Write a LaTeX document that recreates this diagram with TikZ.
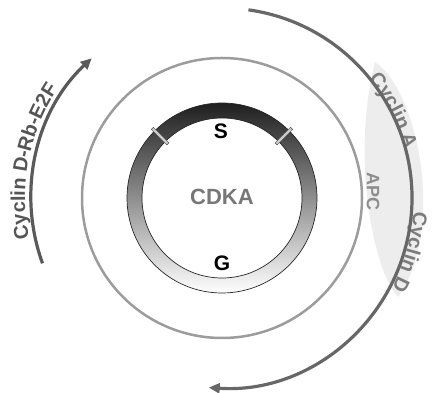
\documentclass[tikz,border=0pt]{standalone}
\usepackage{fontspec}
\setmainfont{Liberation Sans}
\usetikzlibrary{arrows.meta,calc}
\definecolor{arcdark}{HTML}{676767}
\definecolor{arcleft}{HTML}{5A5A5A}
\definecolor{midgray}{HTML}{9C9C9C}
\definecolor{lensgray}{HTML}{EDEDED}
\definecolor{txtleft}{HTML}{555555}
\definecolor{txtright}{HTML}{7C7C7C}
\definecolor{cdkatxt}{HTML}{777777}
\newcommand\arctxt{\fontsize{20}{20}\selectfont\bfseries}
% #1 radius, #2 middle angle, #3 colour, #4 total width, #5 list char/width
\newcommand\arcword[5]{%
  \pgfmathsetmacro\astart{#2+(#4/2)/#1*180/pi}%
  \gdef\arcpos{0}%
  \foreach \ch/\w in {#5} {%
    \pgfmathsetmacro\ang{\astart-(\arcpos+\w/2)/#1*180/pi}%
    \pgfmathsetmacro\np{\arcpos+\w}%
    \global\let\arcpos\np
    \node[arcchar,text=#3,rotate=\ang-90] at ($(c)+(\ang:#1)$) {\ch};
  }%
}
\tikzset{
  flowarc/.style={line width=3.2pt,-{Triangle[length=11pt,width=10pt]}},
  tickbox/.style={draw=black!70,fill=black!20,line width=0.5pt,minimum width=3pt,minimum height=22pt,inner sep=0pt},
  lbl/.style={font=\bfseries,inner sep=0pt},
  arcchar/.style={font=\arctxt,inner sep=0pt,anchor=base}
}
\begin{document}
\begin{tikzpicture}[x=1pt,y=1pt]
\useasboundingbox (0,0) rectangle (434,393);
\coordinate (c) at (222,195);
% light lens on the right
\fill[lensgray] (375,331) .. controls (420,300) and (445,160) .. (398,96)
  .. controls (375,120) and (350,230) .. (375,331);
% middle gray circle
\draw[midgray,line width=2.5pt] (c) circle[radius=140];
% CDKA ring
\shade[top color=black!88,bottom color=white,even odd rule]
  (c) circle[radius=95] (c) circle[radius=80];
\draw[black!85,line width=0.7pt] (c) circle[radius=95];
\draw[black!85,line width=0.7pt] (c) circle[radius=80];
\node[tickbox,rotate=45] (t1) at ($(c)+(135:87.5)$) {};
\node[tickbox,rotate=-45] (t2) at ($(c)+(45:87.5)$) {};
\node[lbl,font=\fontsize{21}{21}\selectfont\bfseries] (S) at (221,262) {S};
\node[lbl,font=\fontsize{21}{21}\selectfont\bfseries] (G) at (222,130) {G};
\node[lbl,text=cdkatxt,font=\fontsize{22}{22}\selectfont\bfseries] (cdka) at (222,196) {CDKA};
\node[lbl,text=midgray!90!black,rotate=-90,font=\fontsize{18}{18}\selectfont\bfseries] (apc) at (373,201) {APC};
% texts on the right (under the arc)
\arcword{189}{27}{txtright}{80.02}{C/14.44,y/11.12,c/11.12,l/5.56,i/5.56,n/12.22,~/5.56,A/14.44}
\arcword{192}{-16}{txtright}{80.02}{C/14.44,y/11.12,c/11.12,l/5.56,i/5.56,n/12.22,~/5.56,D/14.44}
% outer right arc
\coordinate (rs) at ($(c)+(82:190)$);
\draw[arcdark,flowarc] (rs) arc[start angle=82,end angle=-94,radius=190] coordinate (re);
% left arc
\coordinate (ls) at ($(c)+(200:191)$);
\draw[arcleft,flowarc] (ls) arc[start angle=200,end angle=133,radius=191] coordinate (le);
% text on the left
\arcword{197}{169}{txtleft}{156.68}{C/14.44,y/11.12,c/11.12,l/5.56,i/5.56,n/12.22,~/5.56,D/14.44,-/6.66,R/14.44,b/12.22,-/6.66,E/13.34,2/11.12,F/12.22}
\end{tikzpicture}
\end{document}
